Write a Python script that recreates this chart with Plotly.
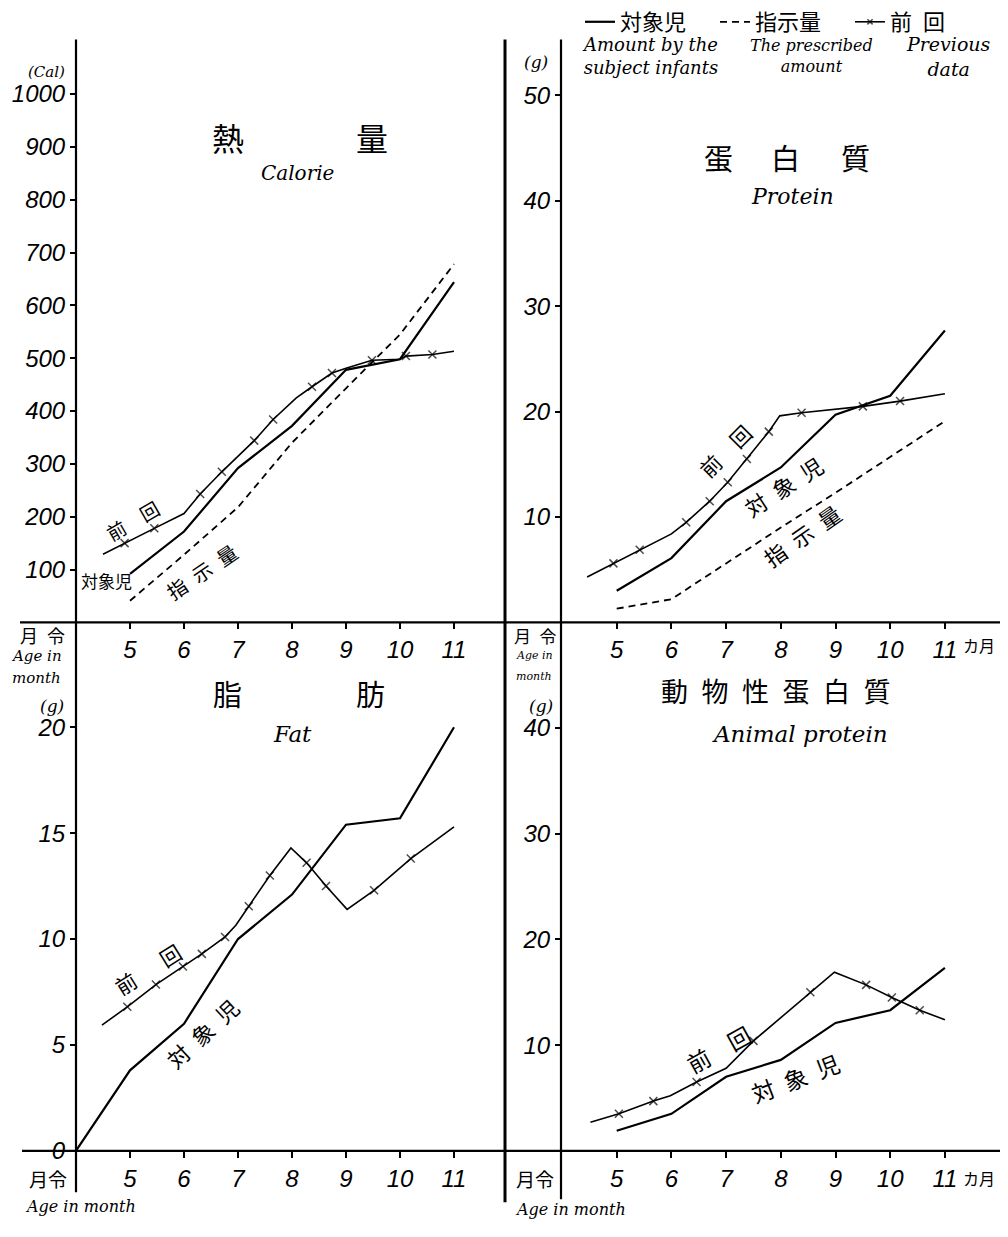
import plotly.graph_objects as go

W, H = 1008, 1237

# ---------------- data ----------------
months = [5, 6, 7, 8, 9, 10, 11]

# Calorie (Cal)
cal_subject = [92, 172, 292, 372, 478, 498, 644]
cal_prescribed = [41, 128, 218, 340, 443, 545, 678]
cal_prev_age = [4.5, 4.9, 5.45, 6.0, 6.3, 6.7, 7.3, 7.65, 8.08, 8.37, 8.74, 9.0, 9.48, 10.0, 10.11, 10.6, 11.0]
cal_prev_val = [129, 150, 178, 206, 243, 285, 344, 384, 425, 446, 472, 481, 496, 498, 504, 507, 513]
cal_prev_obs = [0, 1, 1, 0, 1, 1, 1, 1, 0, 1, 1, 0, 1, 0, 1, 1, 0]

# Protein (g)
pro_subject = [3.0, 6.1, 11.5, 14.7, 19.7, 21.5, 27.7]
pro_prescribed = [1.3, 2.2, 5.6, 9.0, 12.3, 15.7, 19.1]
pro_prev_age = [4.46, 4.94, 5.42, 6.0, 6.27, 6.7, 7.03, 7.38, 7.78, 7.98, 8.38, 9.5, 10.18, 11.0]
pro_prev_val = [4.3, 5.6, 6.9, 8.4, 9.5, 11.5, 13.3, 15.5, 18.1, 19.6, 19.9, 20.5, 21.0, 21.7]
pro_prev_obs = [0, 1, 1, 0, 1, 1, 1, 1, 1, 0, 1, 1, 1, 0]

# Fat (g)
fat_age = [4, 5, 6, 7, 8, 9, 10, 11]
fat_subject = [0, 3.8, 6.0, 10.0, 12.1, 15.4, 15.7, 20.0]
fat_prev_age = [4.48, 4.95, 5.48, 5.98, 6.33, 6.76, 6.96, 7.2, 7.59, 7.98, 8.27, 8.63, 9.02, 9.52, 10.2, 11.0]
fat_prev_val = [5.93, 6.8, 7.85, 8.7, 9.3, 10.1, 10.65, 11.55, 13.0, 14.3, 13.6, 12.5, 11.4, 12.3, 13.8, 15.3]
fat_prev_obs = [0, 1, 1, 1, 1, 1, 0, 1, 1, 0, 1, 1, 0, 1, 1, 0]

# Animal protein (g)
ap_subject = [1.9, 3.5, 7.0, 8.6, 12.1, 13.3, 17.3]
ap_prev_age = [4.52, 5.04, 5.67, 5.98, 6.46, 7.0, 7.5, 8.54, 8.98, 9.56, 10.03, 10.54, 11.0]
ap_prev_val = [2.7, 3.5, 4.7, 5.2, 6.5, 7.8, 10.4, 15.0, 16.9, 15.7, 14.5, 13.3, 12.4]
ap_prev_obs = [0, 1, 1, 0, 1, 0, 1, 1, 0, 1, 1, 1, 0]

cal_ticks = [100, 200, 300, 400, 500, 600, 700, 800, 900, 1000]
pro_ticks = [10, 20, 30, 40, 50]
fat_ticks = [0, 5, 10, 15, 20]
ap_ticks = [10, 20, 30, 40]
x_ticks = months
x_ticktext = ["5", "6", "7", "8", "9", "10", "11"]

NAME_SUBJ, NAME_PRES, NAME_PREV = "対象児", "指示量", "前\u2002回"

# ---------------- helpers ----------------
def fx(p):
    return p / W

def fy(p):
    return 1 - p / H

JP = "Noto Sans CJK JP"
NUM = "Liberation Sans Narrow, Liberation Sans, sans-serif"
SCRIPT = "DejaVu Serif, Liberation Serif, serif"

fig = go.Figure()

def add_subject(x, y, ax, show):
    fig.add_trace(go.Scatter(x=x, y=y, xaxis="x" + ax, yaxis="y" + ax, mode="lines",
                             line=dict(color="black", width=2.2), name=NAME_SUBJ,
                             legendrank=1, showlegend=show, hoverinfo="skip"))

def add_prescribed(x, y, ax, show):
    fig.add_trace(go.Scatter(x=x, y=y, xaxis="x" + ax, yaxis="y" + ax, mode="lines",
                             line=dict(color="black", width=1.8, dash="7px,5px"), name=NAME_PRES,
                             legendrank=2, showlegend=show, hoverinfo="skip"))

def add_prev(x, y, obs, ax, show):
    fig.add_trace(go.Scatter(x=x, y=y, xaxis="x" + ax, yaxis="y" + ax, mode="lines+markers",
                             line=dict(color="black", width=1.6),
                             marker=dict(symbol="x-thin", size=[8 if o else 0 for o in obs],
                                         line=dict(color="black", width=1.5), color="black"),
                             name=NAME_PREV, legendrank=3, showlegend=show, hoverinfo="skip"))

add_subject(months, cal_subject, "", True)
add_prescribed(months, cal_prescribed, "", True)
add_prev(cal_prev_age, cal_prev_val, cal_prev_obs, "", True)

add_subject(months, pro_subject, "2", False)
add_prescribed(months, pro_prescribed, "2", False)
add_prev(pro_prev_age, pro_prev_val, pro_prev_obs, "2", False)

add_subject(fat_age, fat_subject, "3", False)
add_prev(fat_prev_age, fat_prev_val, fat_prev_obs, "3", False)

add_subject(months, ap_subject, "4", False)
add_prev(ap_prev_age, ap_prev_val, ap_prev_obs, "4", False)

# ---------------- axes ----------------
L0, L1 = 76, 505
R0, R1 = 561, 1000
T_TOP, T_BOT = 40, 629
B_TOP, B_BOT = 630, 1163

tickfont = dict(family=NUM, size=24, color="black", style="italic")

def xax(dom, rng):
    return dict(domain=[fx(dom[0]), fx(dom[1])], range=rng, showgrid=False, zeroline=False,
                showline=False, ticks="outside", ticklen=6, tickwidth=1.5, tickcolor="black",
                tickvals=x_ticks, ticktext=x_ticktext, tickfont=tickfont, fixedrange=True)

def yax(dom, rng, tv):
    return dict(domain=[fy(dom[1]), fy(dom[0])], range=rng, showgrid=False, zeroline=False,
                showline=False, ticks="outside", ticklen=5, tickwidth=1.5, tickcolor="black",
                tickvals=tv, ticktext=[str(v) for v in tv], tickfont=tickfont, fixedrange=True)

xl_rng = [4, 4 + (L1 - L0) / 54.0]
xr_rng = [4 - 1 / 54.7, 4 + (R1 - 562) / 54.7]

fig.update_layout(
    xaxis=xax((L0, L1), xl_rng),
    yaxis=yax((T_TOP, T_BOT), [0, (T_BOT - T_TOP) / 0.534], cal_ticks),
    xaxis2=xax((R0, R1), xr_rng),
    yaxis2=yax((T_TOP, T_BOT), [0, (T_BOT - T_TOP) / 10.65], pro_ticks),
    xaxis3=xax((L0, L1), xl_rng),
    yaxis3=yax((B_TOP, B_BOT), [0, (B_BOT - B_TOP) / 21.4], fat_ticks),
    xaxis4=xax((R0, R1), xr_rng),
    yaxis4=yax((B_TOP, B_BOT), [0, (B_BOT - B_TOP) / 10.68], ap_ticks),
)
for k in ["yaxis2", "yaxis4"]:
    fig.layout[k].anchor = "x" + k[-1]
for k in ["xaxis2", "xaxis3", "xaxis4"]:
    fig.layout[k].anchor = "y" + k[-1]

# ---------------- frame lines ----------------
shapes = []
def pline(x0, y0, x1, y1, w=2.2):
    shapes.append(dict(type="line", xref="paper", yref="paper", x0=fx(x0), y0=fy(y0),
                       x1=fx(x1), y1=fy(y1), line=dict(color="black", width=w)))

pline(20, T_BOT, 1000, T_BOT)
pline(22, B_BOT, 1000, B_BOT)
pline(L0, T_TOP, L0, 1205)
pline(505, 40, 505, 1215, 3)
pline(R0, T_TOP, R0, 1212)
fig.update_layout(shapes=shapes)

# ---------------- annotations ----------------
ann = []
def text(x, y, s, size, family=JP, angle=0, style="normal", xanchor="center"):
    ann.append(dict(xref="paper", yref="paper", x=fx(x), y=fy(y), text=s, showarrow=False,
                    xanchor=xanchor, yanchor="middle", textangle=angle,
                    font=dict(family=family, size=size, color="black", style=style)))

# titles
text(228, 138, "熱", 32); text(372, 138, "量", 32)
text(297, 175, "Calorie", 20, SCRIPT, style="italic")
text(718, 159, "蛋", 29); text(785, 159, "白", 29); text(855, 159, "質", 29)
text(792, 199, "Protein", 22, SCRIPT, style="italic")
text(227, 700, "脂", 29); text(370, 700, "肪", 29)
text(292, 742, "Fat", 23, SCRIPT, style="italic")
text(776, 698, "動\u2002物\u2002性\u2002蛋\u2002白\u2002質", 27)
text(800, 742, "Animal protein", 23, SCRIPT, style="italic")

# unit / axis labels
text(46, 73, "(Cal)", 15, SCRIPT, style="italic")
text(536, 63, "(g)", 17, SCRIPT, style="italic")
text(42, 642, "月\u2002令", 18)
text(36, 663, "Age in", 15, SCRIPT, style="italic")
text(36, 685, "month", 15, SCRIPT, style="italic")
text(52, 713, "(g)", 17, SCRIPT, style="italic")
text(535, 642, "月\u2002令", 17)
text(534, 662, "Age in", 11, SCRIPT, style="italic")
text(534, 684, "month", 11, SCRIPT, style="italic")
text(541, 713, "(g)", 17, SCRIPT, style="italic")
text(48, 1191, "月令", 19)
text(80, 1219, "Age in month", 16, SCRIPT, style="italic")
text(535, 1191, "月令", 19)
text(570, 1222, "Age in month", 16, SCRIPT, style="italic")
text(979, 652, "カ月", 16)
text(979, 1191, "カ月", 16)

# inline series labels
text(132, 526, "前\u3000回", 19, angle=-30)
text(106, 587, "対象児", 17)
text(202, 578, "指\u2002示\u2002量", 20, angle=-34)
text(725, 456, "前\u3000回", 21, angle=-45)
text(783, 491, "対\u2002象\u2002児", 22, angle=-33)
text(802, 541, "指\u2002示\u2002量", 22, angle=-35)
text(148, 979, "前\u3000\u2002回", 21, angle=-32)
text(202, 1044, "対\u2002象\u2002児", 22, angle=-43)
text(718, 1060, "前\u3000回", 23, angle=-29)
text(795, 1089, "対\u2002象\u2002児", 23, angle=-21)

# legend captions
text(650, 57, "Amount by the<br>subject infants", 18, SCRIPT, style="italic")
text(811, 57, "The prescribed<br>amount", 16, SCRIPT, style="italic")
text(948, 57, "Previous<br>data", 19, SCRIPT, style="italic")

fig.update_layout(annotations=ann)

fig.update_layout(
    width=W, height=H, margin=dict(l=0, r=0, t=0, b=0),
    paper_bgcolor="white", plot_bgcolor="white",
    showlegend=True,
    legend=dict(orientation="h", x=fx(580), xanchor="left", y=fy(1), yanchor="top",
                font=dict(family=JP, size=22, color="black"), bgcolor="rgba(0,0,0,0)",
                entrywidthmode="pixels", entrywidth=90, itemwidth=30,
                itemclick=False, itemdoubleclick=False, traceorder="normal"),
)

fig.write_html("out.html", config={"displayModeBar": False},
               post_script="document.body.style.margin='0px';")
